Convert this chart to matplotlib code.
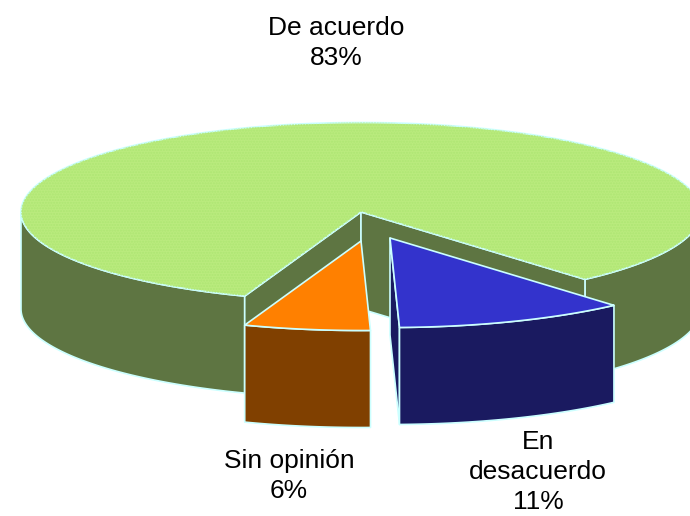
import numpy as np
import matplotlib
matplotlib.use("Agg")
import matplotlib.pyplot as plt
from matplotlib.patches import Polygon

categories = ["En\ndesacuerdo", "Sin opinión", "De acuerdo"]
shares = [11, 6, 83]
top_colors = ["#3333CC", "#FF8000", "#BAEB7E"]
side_colors = ["#1A1A60", "#804000", "#5E7542"]
hatch_color = "#AEE673"
edge = "#CCFFFF"

start_angle = 48.8
rx, ry, depth = 340.0, 89.5, 97.0
centers = [(390, 238), (361, 241), (361, 212)]
label_pos = [(538, 472), (289, 476), (336, 43)]

plt.rcParams["font.family"] = ["Liberation Sans", "DejaVu Sans"]
fig = plt.figure(figsize=(6.9, 5.16), dpi=100, facecolor="white")
ax = fig.add_axes([0, 0, 1, 1])
ax.set_xlim(0, 690)
ax.set_ylim(516, 0)
ax.axis("off")

def rim(c, a0, a1, dy=0.0):
    t = np.radians(np.linspace(a0, a1, max(int(abs(a1 - a0) * 2), 2)))
    return np.column_stack([c[0] + rx * np.cos(t), c[1] + dy + ry * np.sin(t)])

def poly(pts, color, z, hatch=None):
    ax.add_patch(Polygon(pts, closed=True, facecolor=color, edgecolor=edge,
                         linewidth=1.2, zorder=z, joinstyle="round"))
    if hatch:
        ax.add_patch(Polygon(pts, closed=True, facecolor="none", edgecolor=hatch,
                             linewidth=0, hatch="......", zorder=z + 0.01))

def side(c, a0, a1, color, z):
    top = rim(c, a0, a1)
    poly(np.vstack([top, rim(c, a1, a0, depth)]), color, z)

def wall(c, a, color, z):
    p = rim(c, a, a)[0]
    poly([c, p, (p[0], p[1] + depth), (c[0], c[1] + depth)], color, z)

spans = np.array(shares) * 3.6
a = start_angle
angles = []
for s in spans:
    angles.append((a, a + s))
    a += s

# De acuerdo (largest slice, opened toward the viewer)
c = centers[2]
a0, a1 = angles[2]
side(c, a0, 180, side_colors[2], 1)
side(c, 360, a1, side_colors[2], 1)
wall(c, a0, side_colors[2], 2)
wall(c, a1, side_colors[2], 2)
top = np.vstack([[c], rim(c, a0, a1)])
poly(top, top_colors[2], 3, hatch_color)

# Sin opinión
c = centers[1]
a0, a1 = angles[1]
side(c, a0, a1, side_colors[1], 4)
poly(np.vstack([[c], rim(c, a0, a1)]), top_colors[1], 5)

# En desacuerdo
c = centers[0]
a0, a1 = angles[0]
wall(c, a1, side_colors[0], 6)
side(c, a0, a1, side_colors[0], 7)
poly(np.vstack([[c], rim(c, a0, a1)]), top_colors[0], 8)

for name, share, (x, y) in zip(categories, shares, label_pos):
    ax.text(x, y, f"{name}\n{share}%", ha="center", va="center",
            fontsize=19.0, color="black", linespacing=1.3, zorder=10)

fig.savefig("out.png", dpi=100, facecolor="white")
